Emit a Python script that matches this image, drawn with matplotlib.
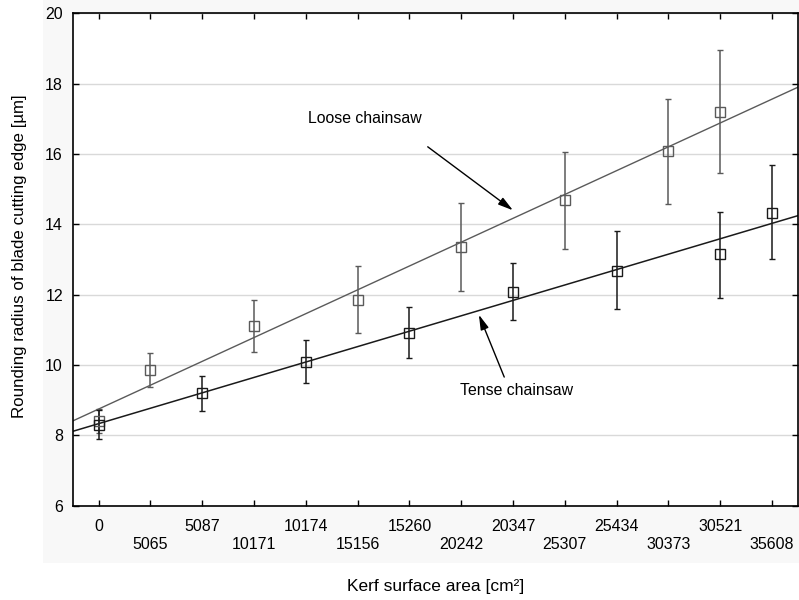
import numpy as np
import matplotlib
matplotlib.use("Agg")
import matplotlib.pyplot as plt
from matplotlib.patches import Rectangle

plt.rcParams['font.family'] = ['Liberation Sans', 'DejaVu Sans']

# Tick labels (kerf surface area, cm2), one per category position
x_labels = ["0", "5065", "5087", "10171", "10174", "15156", "15260",
            "20242", "20347", "25307", "25434", "30373", "30521", "35608"]

# Loose chainsaw: category positions, means, upper / lower error limits
loose_pos = [0, 1, 3, 5, 7, 9, 11, 12]
loose_mean = [8.40, 9.84, 11.10, 11.84, 13.35, 14.68, 16.09, 17.20]
loose_hi = [8.74, 10.35, 11.84, 12.81, 14.61, 16.06, 17.56, 18.95]
loose_lo = [8.06, 9.37, 10.38, 10.90, 12.09, 13.29, 14.57, 15.46]

# Tense chainsaw
tense_pos = [0, 2, 4, 6, 8, 10, 12, 13]
tense_mean = [8.30, 9.20, 10.08, 10.92, 12.08, 12.68, 13.14, 14.33]
tense_hi = [8.72, 9.69, 10.70, 11.66, 12.90, 13.80, 14.35, 15.68]
tense_lo = [7.88, 8.70, 9.49, 10.19, 11.28, 11.58, 11.89, 13.00]

W, H = 799, 600
fig = plt.figure(figsize=(W / 100, H / 100), dpi=100)
fig.patch.set_facecolor('white')
fig.patches.append(Rectangle((43 / W, 1 - 563 / H), 1 - 43 / W, 563 / H,
                             transform=fig.transFigure, facecolor='#f8f8f8',
                             edgecolor='none', zorder=-10))

ax = fig.add_axes([72.7 / W, 1 - 505.5 / H, (798 - 72.7) / W, (505.5 - 13.3) / H])
ax.set_facecolor('white')

xlim = (-0.5, 13.5)
ax.set_xlim(*xlim)
ax.set_ylim(6, 20)
ax.set_yticks(np.arange(6, 21, 2))
ax.yaxis.grid(True, color='#d9d9d9', lw=1.0)
ax.set_axisbelow(True)

series = [
    (loose_pos, loose_mean, loose_hi, loose_lo, '#5a5a5a', 1.0),
    (tense_pos, tense_mean, tense_hi, tense_lo, '#1a1a1a', 1.1),
]
xx = np.array(xlim)
for pos, m, hi, lo, col, lw in series:
    pos = np.array(pos, float)
    m = np.array(m)
    err = [m - np.array(lo), np.array(hi) - m]
    k, b = np.polyfit(pos, m, 1)
    ax.plot(xx, k * xx + b, color=col, lw=lw, zorder=2)
    ax.errorbar(pos, m, yerr=err, fmt='s', mfc='none', mec=col, mew=1.0,
                ms=6.5, ecolor=col, elinewidth=1.1, capsize=2.5, capthick=1.0,
                color=col, zorder=3)

# ticks: even positions on first row (major), odd on second row (minor)
even = list(range(0, 14, 2))
odd = list(range(1, 14, 2))
ax.set_xticks(even)
ax.set_xticklabels([x_labels[i] for i in even])
ax.set_xticks(odd, minor=True)
ax.set_xticklabels([x_labels[i] for i in odd], minor=True)

ax.tick_params(axis='both', which='both', direction='in', length=4, width=1,
               top=True, right=True, labelsize=11.5, colors='black')
ax.tick_params(axis='x', which='major', pad=9.5)
ax.tick_params(axis='x', which='minor', pad=22.5)
ax.tick_params(axis='y', pad=7)

for s in ax.spines.values():
    s.set_linewidth(1.2)
    s.set_color('black')

fig.text(20 / W, 1 - 256 / H, 'Rounding radius of blade cutting edge [µm]',
         rotation=90, ha='center', va='center', fontsize=12.2)
fig.text(436 / W, 1 - 586 / H, 'Kerf surface area [cm\u00b2]',
         ha='center', va='center', fontsize=12.5)

ax.annotate('', xy=(8.04, 14.35), xytext=(6.31, 16.25),
            arrowprops=dict(arrowstyle='-|>,head_length=0.9,head_width=0.25',
                            color='black', lw=1.0))
ax.text(4.05, 17.0, 'Loose chainsaw', fontsize=11.4, va='center', ha='left')

ax.annotate('', xy=(7.32, 11.50), xytext=(7.85, 9.58),
            arrowprops=dict(arrowstyle='-|>,head_length=0.9,head_width=0.25',
                            color='black', lw=1.0))
ax.text(6.98, 9.27, 'Tense chainsaw', fontsize=11.4, va='center', ha='left')

fig.savefig('out.png', dpi=100, facecolor=fig.get_facecolor())
